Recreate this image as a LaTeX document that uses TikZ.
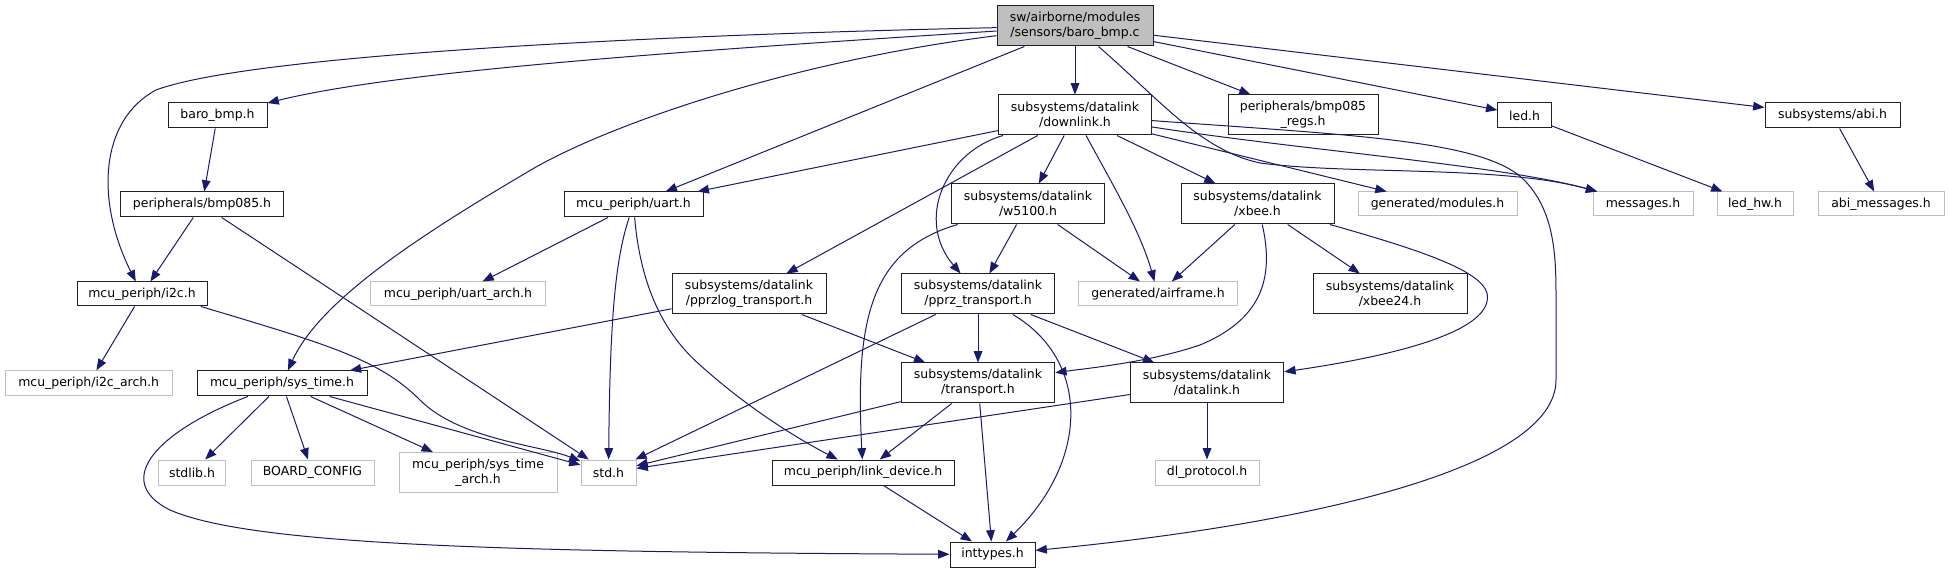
\documentclass[tikz,border=0pt]{standalone}
\usepackage{fontspec}
\setmainfont{DejaVu Sans}
\usetikzlibrary{arrows.meta}
\definecolor{edgeblue}{HTML}{191970}
\definecolor{ugray}{HTML}{BFBFBF}
\definecolor{dgray}{HTML}{202020}
\newcommand{\dxfont}{\fontsize{9.34}{11.25}\selectfont}
\begin{document}
\begin{tikzpicture}[x=0.75pt,y=-0.75pt,
  dbox/.style={rectangle, draw=dgray, line width=0.75pt, inner sep=0pt, align=center, font=\dxfont},
  ubox/.style={dbox, draw=ugray},
  mbox/.style={dbox, fill=ugray},
  sz/.style 2 args={minimum width={#1*0.75pt}, minimum height={#2*0.75pt}},
  lnk/.style={draw=edgeblue, line width=0.75pt, -{Triangle[length=8.5pt,width=6.5pt]}}]
\fill[white] (0,0) rectangle (1949,573);
\useasboundingbox (0,0) rectangle (1949,573);
% nodes
\node[mbox, sz={156}{40}] (main) at (1075,26) {sw/airborne/modules\\/sensors/baro\_bmp.c};
\node[dbox, sz={99}{25}] (baro) at (217.5,115.5) {baro\_bmp.h};
\node[dbox, sz={153}{40}] (downlink) at (1075,115) {subsystems/datalink\\/downlink.h};
\node[dbox, sz={150}{40}] (regs) at (1303,115) {peripherals/bmp085\\\_regs.h};
\node[dbox, sz={53.5}{25}] (led) at (1524.6,115.5) {led.h};
\node[dbox, sz={135}{25}] (abi) at (1832.5,115.5) {subsystems/abi.h};
\node[dbox, sz={162.5}{25}] (bmp) at (202,204.5) {peripherals/bmp085.h};
\node[dbox, sz={139}{25}] (uart) at (633.5,204.5) {mcu\_periph/uart.h};
\node[dbox, sz={153}{40}] (w5100) at (1028,204) {subsystems/datalink\\/w5100.h};
\node[dbox, sz={153}{40}] (xbee) at (1257.5,204) {subsystems/datalink\\/xbee.h};
\node[ubox, sz={159}{24}] (modules) at (1437.5,204) {generated/modules.h};
\node[ubox, sz={100}{24}] (messages) at (1643,204) {messages.h};
\node[ubox, sz={76}{24}] (ledhw) at (1755,204) {led\_hw.h};
\node[ubox, sz={126}{24}] (abimsg) at (1881,204) {abi\_messages.h};
\node[dbox, sz={130}{24}] (i2c) at (142,294) {mcu\_periph/i2c.h};
\node[ubox, sz={174.5}{24}] (uartarch) at (458,294) {mcu\_periph/uart\_arch.h};
\node[dbox, sz={154}{40}] (pprzlog) at (749,294) {subsystems/datalink\\/pprzlog\_transport.h};
\node[dbox, sz={153.5}{40}] (pprz) at (978,294) {subsystems/datalink\\/pprz\_transport.h};
\node[ubox, sz={158.5}{24}] (airframe) at (1158,294) {generated/airframe.h};
\node[dbox, sz={154}{40}] (xbee24) at (1390,294) {subsystems/datalink\\/xbee24.h};
\node[ubox, sz={166.6}{25}] (i2carch) at (88.7,383.3) {mcu\_periph/i2c\_arch.h};
\node[dbox, sz={170}{25}] (systime) at (282,383.5) {mcu\_periph/sys\_time.h};
\node[dbox, sz={153.5}{40}] (transport) at (978,383) {subsystems/datalink\\/transport.h};
\node[dbox, sz={153.5}{40}] (datalink) at (1207,383) {subsystems/datalink\\/datalink.h};
\node[ubox, sz={67.5}{25}] (stdlib) at (192,472.5) {stdlib.h};
\node[ubox, sz={123}{25}] (board) at (312.5,472.5) {BOARD\_CONFIG};
\node[ubox, sz={158}{40}] (systimearch) at (478,472.5) {mcu\_periph/sys\_time\\\_arch.h};
\node[ubox, sz={55}{25}] (std) at (608.5,472.5) {std.h};
\node[dbox, sz={182}{25}] (linkdev) at (863,472.5) {mcu\_periph/link\_device.h};
\node[ubox, sz={104}{25}] (dlproto) at (1207,472.5) {dl\_protocol.h};
\node[dbox, sz={85}{25}] (inttypes) at (992.5,554.5) {inttypes.h};
% edges from main
\draw[lnk] (main) .. controls (650,35) and (250,55) .. (156,90) .. controls (100,120) and (95,200) .. (i2c);
\draw[lnk] (main) .. controls (700,50) and (400,70) .. (baro);
\draw[lnk] (main) .. controls (800,60) and (620,120) .. (536,167) .. controls (420,235) and (320,300) .. (systime);
\draw[lnk] (main) -- (uart);
\draw[lnk] (main) -- (downlink);
\draw[lnk] (main) -- (regs);
\draw[lnk] (main) -- (led);
\draw[lnk] (main) -- (abi);
\draw[lnk] (main) .. controls (1160,100) and (1200,150) .. (1260,163) .. controls (1350,175) and (1500,165) .. (messages);
% edges from downlink
\draw[lnk] (downlink) -- (uart);
\draw[lnk] (downlink) -- (pprzlog);
\draw[lnk] (downlink) .. controls (945,152) and (915,220) .. (pprz);
\draw[lnk] (downlink) -- (w5100);
\draw[lnk] (downlink) .. controls (1110,180) and (1140,230) .. (airframe);
\draw[lnk] (downlink) -- (xbee);
\draw[lnk] (downlink) -- (modules);
\draw[lnk] (downlink) .. controls (1300,150) and (1500,165) .. (messages);
\draw[lnk] (downlink) .. controls (1350,135) and (1480,140) .. (1522,178) .. controls (1556,210) and (1556,260) .. (1556,300) -- (1556,380) .. controls (1556,470) and (1300,525) .. (inttypes);
% others
\draw[lnk] (baro) -- (bmp);
\draw[lnk] (bmp) -- (i2c);
\draw[lnk] (bmp) -- (std);
\draw[lnk] (i2c) -- (i2carch);
\draw[lnk] (i2c.-12) .. controls (330,345) and (380,360) .. (420,400) .. controls (460,440) and (540,445) .. (std);
\draw[lnk] (uart) -- (uartarch);
\draw[lnk] (uart) .. controls (615,260) and (610,320) .. (std);
\draw[lnk] (uart) .. controls (640,280) and (660,330) .. (700,365) .. controls (750,410) and (800,440) .. (linkdev);
\draw[lnk] (w5100) -- (pprz);
\draw[lnk] (w5100) -- (airframe);
\draw[lnk] (w5100) .. controls (870,250) and (855,320) .. (linkdev);
\draw[lnk] (xbee) -- (airframe);
\draw[lnk] (xbee) -- (xbee24);
\draw[lnk] (xbee) .. controls (1275,280) and (1260,320) .. (1200,345) .. controls (1150,362) and (1090,368) .. (transport);
\draw[lnk] (xbee) .. controls (1420,250) and (1480,270) .. (1487,293) .. controls (1495,330) and (1400,355) .. (datalink);
\draw[lnk] (pprzlog) -- (systime);
\draw[lnk] (pprzlog) -- (transport);
\draw[lnk] (pprz) -- (transport);
\draw[lnk] (pprz) -- (datalink);
\draw[lnk] (pprz) -- (std);
\draw[lnk] (pprz) .. controls (1090,360) and (1090,460) .. (inttypes);
\draw[lnk] (systime) -- (stdlib);
\draw[lnk] (systime) -- (board);
\draw[lnk] (systime) -- (systimearch);
\draw[lnk] (systime) -- (std);
\draw[lnk] (systime) .. controls (160,430) and (110,480) .. (170,510) .. controls (250,545) and (500,552) .. (inttypes);
\draw[lnk] (transport) -- (std);
\draw[lnk] (transport) -- (linkdev);
\draw[lnk] (transport) -- (inttypes);
\draw[lnk] (datalink) -- (std);
\draw[lnk] (datalink) -- (dlproto);
\draw[lnk] (linkdev) -- (inttypes);
\draw[lnk] (led) -- (ledhw);
\draw[lnk] (abi) -- (abimsg);
\end{tikzpicture}
\end{document}
